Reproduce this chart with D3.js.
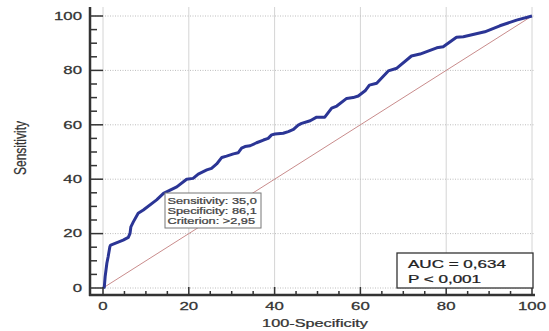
<!DOCTYPE html>
<html>
<head>
<meta charset="utf-8">
<script src="https://cdn.jsdelivr.net/npm/d3@7"></script>
<style>
  body { margin: 0; background: #fff; }
  text { font-family: "Liberation Sans", Arial, sans-serif; }
</style>
</head>
<body>
<svg id="chart" width="549" height="331"></svg>
<script>
// ROC curve points: 100-Specificity (x), Sensitivity (y)
const fpr = [0, 0.3, 0.5, 0.9, 1.2, 1.6, 1.8, 4.7, 5.9, 6.3, 6.5, 7.1, 8.2, 9.4, 12.5, 14.1,
  17.2, 19.5, 21, 22.2, 24.2, 25.3, 26.5, 27.7, 28.8, 30.4, 31.5, 32.3, 33.1, 34.3, 35.8,
  37.4, 38.5, 39.3, 40.1, 42, 43.2, 44.4, 45.5, 46.3, 48.3, 49.8, 51.7, 53.3, 54.5, 56.8,
  58.3, 59.5, 61.1, 62.1, 63.8, 66.5, 68.5, 71.9, 73.9, 77.8, 79.3, 82.4, 84, 89, 92.5, 96.4, 100];
const tpr = [0, 0.3, 4.2, 9.1, 11.5, 15.2, 15.8, 17.6, 18.6, 20.1, 22.5, 24.4, 27.5, 28.7, 32.4, 34.8,
  37.2, 40, 40.3, 41.9, 43.4, 44, 45.6, 48, 48.5, 49.3, 49.7, 51.4, 52, 52.3, 53.4,
  54.4, 55, 56.3, 56.6, 56.9, 57.5, 58.3, 59.9, 60.5, 61.5, 62.8, 62.8, 66.1, 66.9, 69.7,
  70, 70.6, 72.5, 74.6, 75.3, 79.8, 80.8, 85.3, 86, 88.3, 88.7, 92.2, 92.4, 94.2, 96.4, 98.5, 100];
const majorTicks = [0, 20, 40, 60, 80, 100];
const minorTicks = d3.range(0, 101, 5);
const criterionLines = ["Sensitivity: 35,0", "Specificity: 86,1", "Criterion: >2,95"];
const statLines = ["AUC = 0,634", "P < 0,001"];

const svg = d3.select("#chart");
const x = d3.scaleLinear().domain([0, 100]).range([103, 532]);
const y = d3.scaleLinear().domain([0, 100]).range([288, 16]);
const axisX = 90, axisY = 295, topY = 7, rightX = 535;

// the source picture is stretched sideways, so text is too
function label(g, px, py, str, size, sx, anchor, fill) {
  const c = fill || "#333";
  return g.append("text")
    .attr("transform", `translate(${px},${py}) scale(${sx},1)`)
    .attr("text-anchor", anchor || "start")
    .attr("font-size", size).attr("fill", c)
    .attr("stroke", c).attr("stroke-width", 0.25)
    .text(str);
}

// grid
svg.append("g").selectAll("line").data(majorTicks).join("line")
  .attr("x1", d => x(d)).attr("x2", d => x(d))
  .attr("y1", topY).attr("y2", axisY)
  .attr("stroke", "#d4d4d4").attr("stroke-width", 1);
svg.append("g").selectAll("line").data(majorTicks).join("line")
  .attr("x1", axisX).attr("x2", rightX)
  .attr("y1", d => y(d)).attr("y2", d => y(d))
  .attr("stroke", "#bdbdbd").attr("stroke-width", 1).attr("stroke-dasharray", "1,1.5");

// diagonal
svg.append("line")
  .attr("x1", x(0)).attr("y1", y(0)).attr("x2", x(100)).attr("y2", y(100))
  .attr("stroke", "#c98c8c").attr("stroke-width", 1);

// ROC curve
const pts = fpr.map((v, i) => [v, tpr[i]]);
svg.append("path")
  .attr("d", d3.line().x(d => x(d[0])).y(d => y(d[1]))(pts))
  .attr("fill", "none").attr("stroke", "#2b3595").attr("stroke-width", 3)
  .attr("stroke-linejoin", "round");

// axes
const ax = svg.append("g").attr("stroke", "#333");
ax.append("line").attr("x1", axisX).attr("x2", axisX).attr("y1", topY).attr("y2", axisY + 1)
  .attr("stroke-width", 2.5);
ax.append("line").attr("x1", axisX - 1).attr("x2", rightX).attr("y1", axisY).attr("y2", axisY)
  .attr("stroke-width", 2.5);
ax.selectAll(".ty").data(minorTicks).join("line")
  .attr("x1", axisX).attr("x2", d => axisX + (d % 20 === 0 ? 13 : 7))
  .attr("y1", d => y(d)).attr("y2", d => y(d)).attr("stroke-width", 1.5);
ax.selectAll(".tx").data(minorTicks).join("line")
  .attr("y1", axisY).attr("y2", d => axisY - (d % 20 === 0 ? 8 : 4))
  .attr("x1", d => x(d)).attr("x2", d => x(d)).attr("stroke-width", 1.5);

const tl = svg.append("g");
majorTicks.forEach(d => label(tl, 82, y(d) + 3.8, d, 10.5, 1.6, "end"));
majorTicks.forEach(d => label(tl, x(d), 310, d, 10.5, 1.6, "middle"));

label(svg, 315, 327, "100-Specificity", 10.5, 1.55, "middle");
svg.append("text").attr("transform", "translate(26,148) rotate(-90) scale(1,1.3)")
  .attr("text-anchor", "middle").attr("font-size", 12).attr("fill", "#333")
  .attr("stroke", "#333").attr("stroke-width", 0.2).text("Sensitivity");

// criterion box
const cb = svg.append("g").attr("transform", "translate(165,193)");
cb.append("rect").attr("width", 96).attr("height", 35).attr("fill", "#fff")
  .attr("stroke", "#777").attr("stroke-width", 1);
criterionLines.forEach((s, i) => label(cb, 2.5, 10.5 + i * 10, s, 8.5, 1.5, "start", "#444"));

// AUC box
const sb = svg.append("g").attr("transform", "translate(397,253)");
sb.append("rect").attr("width", 136).attr("height", 35).attr("fill", "#fff")
  .attr("stroke", "#333").attr("stroke-width", 1.3);
statLines.forEach((s, i) => label(sb, 11, 14.5 + i * 15.5, s, 11, 1.55, "start", "#222"));
</script>
</body>
</html>
